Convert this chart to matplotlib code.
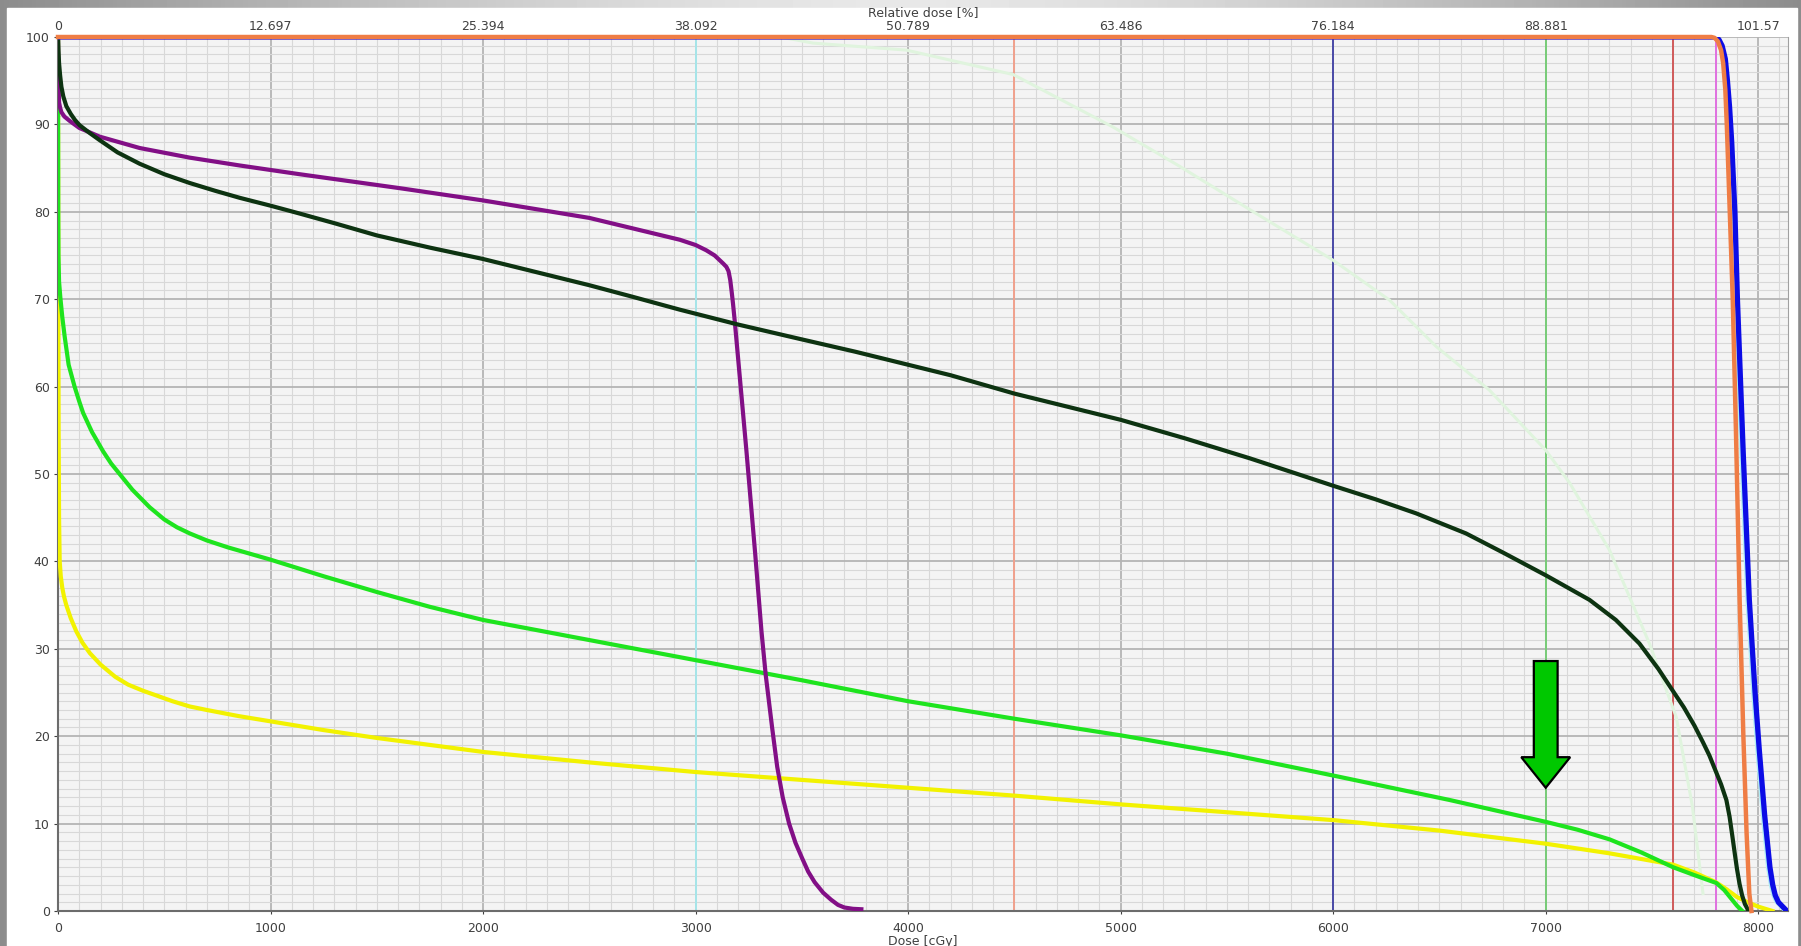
import numpy as np
import matplotlib.pyplot as plt
from matplotlib.patches import Rectangle, Polygon
from matplotlib.ticker import MultipleLocator

# dose-volume histogram curves (dose cGy, volume %)
orange_x = [0, 7780, 7795, 7810, 7825, 7835, 7845, 7852, 7866, 7880, 7895, 7912, 7930, 7945, 7958, 7968]
orange_y = [100, 100, 99.9, 99.5, 98.5, 97, 94, 90, 80, 70, 55, 36, 20, 9, 2, 0]

blue_x = [0, 7800, 7815, 7830, 7845, 7855, 7865, 7875, 7890, 7902, 7930, 7958, 7985, 8005, 8030, 8055,
          8068, 8080, 8095, 8115, 8135]
blue_y = [100, 100, 99.7, 99, 97.5, 95, 92, 88, 80, 70, 52, 35.6, 25, 18.4, 11, 5,
          3, 1.8, 1, 0.5, 0]

dkgreen_x = [0, 2, 5, 10, 16, 25, 39, 60, 80, 102, 150, 196, 280, 384, 500, 619, 740, 855, 1000, 1137,
             1300, 1500, 1750, 2000, 2250, 2500, 2700, 2926, 3200, 3500, 3750, 4000, 4200, 4500, 4750, 5000,
             5300, 5607, 6007, 6200, 6390, 6625, 6800, 7001, 7206, 7330, 7441, 7530, 7606, 7650, 7700,
             7740, 7770, 7800, 7825, 7850, 7865, 7878, 7890, 7900, 7912, 7924, 7937, 7955]
dkgreen_y = [100, 98.5, 97, 95.6, 94.3, 93.2, 92.1, 91.2, 90.5, 89.9, 89, 88.2, 86.8, 85.5, 84.3, 83.3, 82.4, 81.6, 80.7, 79.8,
             78.7, 77.3, 75.9, 74.6, 73.1, 71.6, 70.3, 68.8, 67.1, 65.4, 64.0, 62.5, 61.3, 59.2, 57.7, 56.2,
             54.1, 51.8, 48.6, 47.1, 45.5, 43.2, 41, 38.4, 35.6, 33.3, 30.6, 27.7, 24.9, 23.3, 21.2,
             19.3, 17.8, 16.0, 14.5, 12.7, 10.8, 8.6, 6.5, 4.8, 3.1, 1.8, 0.8, 0]

purple_x = [0, 2, 5, 10, 16, 30, 55, 100, 196, 384, 619, 855, 1137, 1609, 2000, 2500, 2926, 3000, 3050,
            3090, 3129, 3145, 3155, 3163, 3170, 3176, 3185, 3239, 3280, 3310, 3330, 3360, 3384, 3410,
            3440, 3470, 3502, 3530, 3560, 3600, 3637, 3670, 3700, 3740, 3780]
purple_y = [100, 95, 92.5, 91.9, 91.4, 90.9, 90.4, 89.6, 88.6, 87.3, 86.2, 85.3, 84.3, 82.7, 81.3, 79.3, 76.8, 76.2, 75.6,
            75, 74.1, 73.7, 73.2, 72.2, 70.8, 69.5, 67.3, 52.7, 41, 32, 27, 21, 16.5, 13,
            10, 7.8, 6, 4.5, 3.3, 2.1, 1.3, 0.7, 0.4, 0.25, 0.2]

green_x = [0, 0.5, 1, 2, 5, 11, 20, 31, 50, 78, 100, 118, 160, 212, 250, 290, 350, 431, 500, 560, 620,
           700, 800, 900, 1000, 1250, 1500, 1750, 2000, 2500, 3000, 3500, 4000, 4500, 5000, 5500, 6000,
           6548, 7000, 7150, 7300, 7450, 7600, 7700, 7803, 7840, 7870, 7900, 7925]
green_y = [100, 90, 80, 75, 72, 70.2, 68, 65.8, 62.5, 60, 58.3, 57, 54.8, 52.6, 51.2, 50, 48.2, 46.2, 44.8, 43.9, 43.2,
           42.4, 41.6, 40.9, 40.2, 38.3, 36.5, 34.8, 33.3, 31, 28.7, 26.4, 24, 22, 20.1, 18, 15.5,
           12.7, 10.2, 9.3, 8.2, 6.7, 5.0, 4.1, 3.2, 2.4, 1.5, 0.6, 0]

yellow_x = [0, 1, 2, 3, 5, 8, 13, 20, 28, 39, 60, 86, 115, 150, 200, 269, 330, 400, 470, 539, 620, 700,
            850, 1000, 1250, 1500, 2000, 2500, 3000, 3500, 4000, 4500, 5000, 5500, 6000, 6500, 7000,
            7300, 7600, 7700, 7800, 7850, 7900, 7950, 8000, 8067]
yellow_y = [100, 80, 65, 55, 45, 40, 38.3, 37, 36, 35, 33.5, 32, 30.7, 29.5, 28.2, 26.8, 25.9, 25.2, 24.6, 24, 23.4, 23,
            22.3, 21.7, 20.7, 19.8, 18.2, 17, 15.9, 15, 14.1, 13.2, 12.2, 11.3, 10.4, 9.2, 7.7,
            6.6, 5.3, 4.4, 3.3, 2.5, 1.6, 1, 0.5, 0]

faint_x = [0, 3400, 3553, 3992, 4495, 4964, 5278, 5638, 5997, 6265, 6484, 6735, 7001, 7112, 7300, 7488, 7614, 7690, 7740]
faint_y = [100, 100, 99.3, 98.5, 95.7, 89.7, 85.2, 79.8, 74.5, 69.9, 64.6, 59.6, 52.7, 49, 41.3, 30.6, 22.2, 12, 2]

# reference dose lines
ref_doses = [3000, 4500, 6000, 7000, 7600, 7800]
ref_colors = ['#a6e6ea', '#f0a08c', '#4a4aa8', '#78cc78', '#d05a5a', '#e070e0']

dose_ticks = [0, 1000, 2000, 3000, 4000, 5000, 6000, 7000, 8000]
rel_labels = ['0', '12.697', '25.394', '38.092', '50.789', '63.486', '76.184', '88.881', '101.57']

# arrow marker at 7000 cGy
arrow_x = 7000
arrow_top, arrow_base, arrow_tip = 28.6, 17.6, 14.1
shaft_hw, head_hw = 56, 115

W, H = 1801, 946
fig = plt.figure(figsize=(W / 100, H / 100), dpi=100)

# gray frame with gradient
bg = fig.add_axes([0, 0, 1, 1], zorder=-10)
xx = np.linspace(0, 1, 400)
g = 0.55 + 0.36 * (1 - np.abs(2 * xx - 1) ** 1.5)
bg.imshow(np.tile(g, (10, 1)), cmap='gray', vmin=0, vmax=1, aspect='auto', extent=[0, 1, 0, 1])
bg.add_patch(Rectangle((7 / W, 0), (1797 - 7) / W, (H - 8) / H, color='white'))
bg.set_xlim(0, 1)
bg.set_ylim(0, 1)
bg.axis('off')

ax = fig.add_axes([58 / W, 1 - 911 / H, (1788 - 58) / W, (911 - 37) / H])
ax.set_facecolor('#f4f4f4')
ax.set_xlim(0, 8140)
ax.set_ylim(0, 100)

ax.xaxis.set_major_locator(MultipleLocator(1000))
ax.xaxis.set_minor_locator(MultipleLocator(100))
ax.yaxis.set_major_locator(MultipleLocator(10))
ax.yaxis.set_minor_locator(MultipleLocator(1))
ax.grid(which='major', color='#b4b4b4', lw=1.3)
ax.grid(which='minor', color='#d8d8d8', lw=0.8)
ax.set_axisbelow(True)

for d, c in zip(ref_doses, ref_colors):
    ax.axvline(d, color=c, lw=1.4, zorder=2)

ax.plot(faint_x, faint_y, color='#e0f4de', lw=2.2, zorder=3)
ax.plot(yellow_x, yellow_y, color='#f2f200', lw=3.0, zorder=4)
ax.plot(green_x, green_y, color='#1ee41e', lw=3.0, zorder=5)
ax.plot(purple_x, purple_y, color='#820f86', lw=3.0, zorder=6)
ax.plot(dkgreen_x, dkgreen_y, color='#0d3311', lw=3.0, zorder=7)
ax.plot(np.array(blue_x) - 12, blue_y, color='#b0ecf4', lw=2.0, zorder=7)
ax.plot(blue_x, blue_y, color='#0c0ce6', lw=3.8, zorder=8)
ax.plot(orange_x, orange_y, color='#ef7d45', lw=3.2, zorder=9, clip_on=False)

arrow = Polygon([(arrow_x - shaft_hw, arrow_top), (arrow_x + shaft_hw, arrow_top),
                 (arrow_x + shaft_hw, arrow_base), (arrow_x + head_hw, arrow_base),
                 (arrow_x, arrow_tip), (arrow_x - head_hw, arrow_base),
                 (arrow_x - shaft_hw, arrow_base)],
                closed=True, facecolor='#00c800', edgecolor='black', lw=1.6, zorder=10)
ax.add_patch(arrow)

for s in ['left', 'bottom']:
    ax.spines[s].set_color('#6c6c6c')
    ax.spines[s].set_linewidth(1.5)
ax.spines['right'].set_color('#a0a0a0')
ax.spines['top'].set_visible(False)

txt = '#404040'
ax.set_xticks(dose_ticks)
ax.tick_params(axis='x', which='major', length=2, pad=6, labelsize=9, colors=txt)
ax.tick_params(axis='y', which='major', length=3, pad=3, labelsize=9, colors=txt)
ax.tick_params(which='minor', length=0)
ax.set_xlabel('Dose [cGy]', fontsize=9, color=txt, labelpad=0)

top = ax.secondary_xaxis('top')
top.set_xticks(dose_ticks)
top.set_xticklabels(rel_labels)
top.tick_params(length=0, pad=3, labelsize=9, colors=txt)
top.spines['top'].set_visible(False)
top.set_xlabel('Relative dose [%]', fontsize=9, color=txt, labelpad=2.5)

fig.savefig('out.png', dpi=100)
